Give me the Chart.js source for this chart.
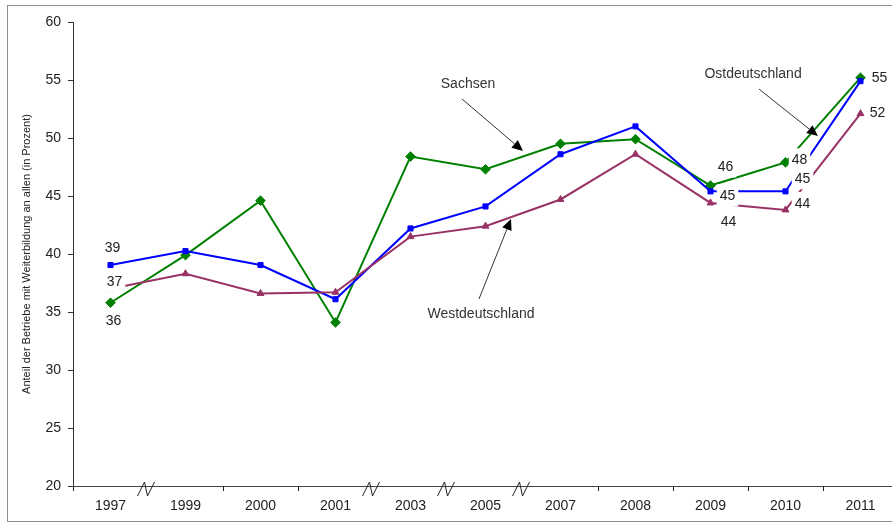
<!DOCTYPE html>
<html>
<head>
<meta charset="utf-8">
<script src="https://cdn.jsdelivr.net/npm/chart.js@4.4.1/dist/chart.umd.min.js"></script>
<style>
  html, body { margin: 0; padding: 0; background: #fff; overflow: hidden; }
  #wrap { width: 892px; height: 526px; overflow: hidden; position: relative; }
  canvas { display: block; }
</style>
</head>
<body>
<div id="wrap"><canvas id="c" width="905" height="526"></canvas></div>
<script>
// Survey years (gaps between non-consecutive years are marked with a break on the axis)
const years = ['1997', '1999', '2000', '2001', '2003', '2005', '2007', '2008', '2009', '2010', '2011'];

// Share of establishments offering further training, in percent
const sachsen         = [35.8, 39.9, 44.6, 34.1, 48.4, 47.3, 49.5, 49.9, 45.9, 47.9, 55.2];
const ostdeutschland  = [39.05, 40.25, 39.05, 36.1, 42.2, 44.1, 48.6, 51.0, 45.4, 45.4, 54.9];
const westdeutschland = [37.0, 38.3, 36.6, 36.7, 41.5, 42.4, 44.7, 48.6, 44.4, 43.8, 52.1];

// Value axis
const yMin = 20, yMax = 60, yStep = 5;
const yTitle = 'Anteil der Betriebe mit Weiterbildung an allen (in Prozent)';

// Series captions with pointer arrows, given in axis units (category index, percent)
const captions = [
  { text: 'Sachsen',         at: [4.767, 54.66], from: [4.687, 53.36], to: [5.50, 48.88] },
  { text: 'Westdeutschland', at: [4.94, 34.83],  from: [4.913, 36.12], to: [5.34, 43.02] },
  { text: 'Ostdeutschland',  at: [8.567, 55.52], from: [8.647, 54.22], to: [9.433, 50.17] }
];

const FONT = '"Liberation Sans", Arial, Helvetica, sans-serif';
const TEXT = '#222222';

const series = { sachsen, ostdeutschland, westdeutschland };

// Value labels: which point, and where its boxed label sits relative to the point (px)
const valueLabels = [
  { s: 'ostdeutschland',  i: 0,  dx: 2,  dy: -18 },
  { s: 'westdeutschland', i: 0,  dx: 4,  dy: -8 },
  { s: 'sachsen',         i: 0,  dx: 3,  dy: 17 },
  { s: 'sachsen',         i: 8,  dx: 15, dy: -19 },
  { s: 'ostdeutschland',  i: 8,  dx: 17, dy: 4 },
  { s: 'westdeutschland', i: 8,  dx: 18, dy: 18 },
  { s: 'sachsen',         i: 9,  dx: 14, dy: -3 },
  { s: 'ostdeutschland',  i: 9,  dx: 17, dy: -13 },
  { s: 'westdeutschland', i: 9,  dx: 17, dy: -7 },
  { s: 'sachsen',         i: 10, dx: 19, dy: -1 },
  { s: 'westdeutschland', i: 10, dx: 17, dy: -1 }
];

function drawArrow(ctx, x1, y1, x2, y2) {
  const ang = Math.atan2(y2 - y1, x2 - x1);
  const len = 11, w = 5;
  const bx = x2 - len * Math.cos(ang), by = y2 - len * Math.sin(ang);
  ctx.strokeStyle = '#333';
  ctx.lineWidth = 1;
  ctx.beginPath();
  ctx.moveTo(x1, y1);
  ctx.lineTo(bx, by);
  ctx.stroke();
  ctx.fillStyle = '#000';
  ctx.beginPath();
  ctx.moveTo(x2, y2);
  ctx.lineTo(bx + w * Math.sin(ang), by - w * Math.cos(ang));
  ctx.lineTo(bx - w * Math.sin(ang), by + w * Math.cos(ang));
  ctx.closePath();
  ctx.fill();
}

const decor = {
  id: 'decor',
  beforeDraw(chart) {
    const ctx = chart.ctx;
    ctx.save();
    ctx.fillStyle = '#fff';
    ctx.fillRect(0, 0, chart.width, chart.height);
    ctx.strokeStyle = '#8c8c8c';
    ctx.lineWidth = 1;
    ctx.strokeRect(7.5, 5.5, chart.width, 516);
    ctx.restore();
  },
  afterDatasetsDraw(chart) {
    const ctx = chart.ctx;
    const xs = chart.scales.x, ys = chart.scales.y;
    ctx.save();
    ctx.font = '14px ' + FONT;
    ctx.textAlign = 'center';
    ctx.textBaseline = 'middle';
    valueLabels.forEach(l => {
      const v = series[l.s][l.i];
      const px = xs.getPixelForValue(l.i), py = ys.getPixelForValue(v);
      const t = String(Math.round(v));
      const cx = px + l.dx, cy = py + l.dy;
      const w = ctx.measureText(t).width + 6;
      ctx.fillStyle = '#fff';
      ctx.fillRect(cx - w / 2, cy - 11, w, 22);
      ctx.fillStyle = TEXT;
      ctx.fillText(t, cx, cy + 1);
    });
    ctx.restore();
  },
  afterDraw(chart) {
    const ctx = chart.ctx;
    const xs = chart.scales.x, ys = chart.scales.y;
    const area = chart.chartArea;
    ctx.save();

    // Category boundary ticks, or a break mark where years are skipped
    const half = (xs.getPixelForValue(1) - xs.getPixelForValue(0)) / 2;
    const y0 = Math.round(area.bottom);
    ctx.strokeStyle = '#222';
    ctx.lineWidth = 1;
    for (let k = 0; k <= years.length; k++) {
      const bx = Math.round(xs.getPixelForValue(0) - half + k * 2 * half) + 0.5;
      const isBreak = k > 0 && k < years.length && (+years[k] - +years[k - 1] > 1);
      ctx.beginPath();
      if (isBreak) {
        ctx.moveTo(bx - 11, y0 + 10);
        ctx.lineTo(bx - 4, y0 - 4);
        ctx.lineTo(bx - 1, y0 + 10);
        ctx.lineTo(bx + 6, y0 - 4);
      } else {
        ctx.moveTo(bx, y0);
        ctx.lineTo(bx, y0 + 5);
      }
      ctx.stroke();
    }

    // Axis title
    ctx.save();
    ctx.translate(27, (area.top + area.bottom) / 2);
    ctx.rotate(-Math.PI / 2);
    ctx.font = '11px ' + FONT;
    ctx.fillStyle = TEXT;
    ctx.textAlign = 'center';
    ctx.textBaseline = 'middle';
    ctx.fillText(yTitle, 0, 0);
    ctx.restore();

    // Series captions and arrows
    const X = v => xs.getPixelForValue(0) + v * 2 * half;
    const Y = v => ys.getPixelForValue(v);
    ctx.font = '14px ' + FONT;
    ctx.textAlign = 'center';
    ctx.textBaseline = 'middle';
    captions.forEach(c => {
      ctx.fillStyle = '#333';
      ctx.fillText(c.text, X(c.at[0]), Y(c.at[1]));
      drawArrow(ctx, X(c.from[0]), Y(c.from[1]), X(c.to[0]), Y(c.to[1]));
    });
    ctx.restore();
  }
};

new Chart(document.getElementById('c'), {
  type: 'line',
  data: {
    labels: years,
    datasets: [
      {
        label: 'Westdeutschland', data: westdeutschland,
        borderColor: '#993366', backgroundColor: '#993366', borderWidth: 2,
        pointStyle: 'triangle', pointRadius: 4, pointBorderWidth: 1, tension: 0
      },
      {
        label: 'Ostdeutschland', data: ostdeutschland,
        borderColor: '#0000ff', backgroundColor: '#0000ff', borderWidth: 2,
        pointStyle: 'rect', pointRadius: 3.6, pointBorderWidth: 1, tension: 0
      },
      {
        label: 'Sachsen', data: sachsen,
        borderColor: '#008000', backgroundColor: '#008000', borderWidth: 2,
        pointStyle: 'rectRot', pointRadius: 4.8, pointBorderWidth: 1, tension: 0
      }
    ]
  },
  options: {
    responsive: false,
    animation: false,
    devicePixelRatio: 1,
    layout: { padding: { left: 0, top: 22, right: 7, bottom: 0 } },
    plugins: { legend: { display: false }, tooltip: { enabled: false } },
    scales: {
      x: {
        type: 'category',
        offset: true,
        grid: { display: false },
        border: { display: true, color: '#444', width: 1 },
        ticks: { color: TEXT, font: { family: FONT, size: 14 }, padding: 4, maxRotation: 0, autoSkip: false },
        afterFit(scale) { scale.height = 40; }
      },
      y: {
        min: yMin, max: yMax,
        grid: { display: true, drawOnChartArea: false, drawTicks: true, tickLength: 5, color: '#333' },
        border: { display: true, color: '#333', width: 1 },
        ticks: { stepSize: yStep, color: TEXT, font: { family: FONT, size: 14 }, padding: 7 },
        afterFit(scale) { scale.width = 73; }
      }
    }
  },
  plugins: [decor]
});
</script>
</body>
</html>
